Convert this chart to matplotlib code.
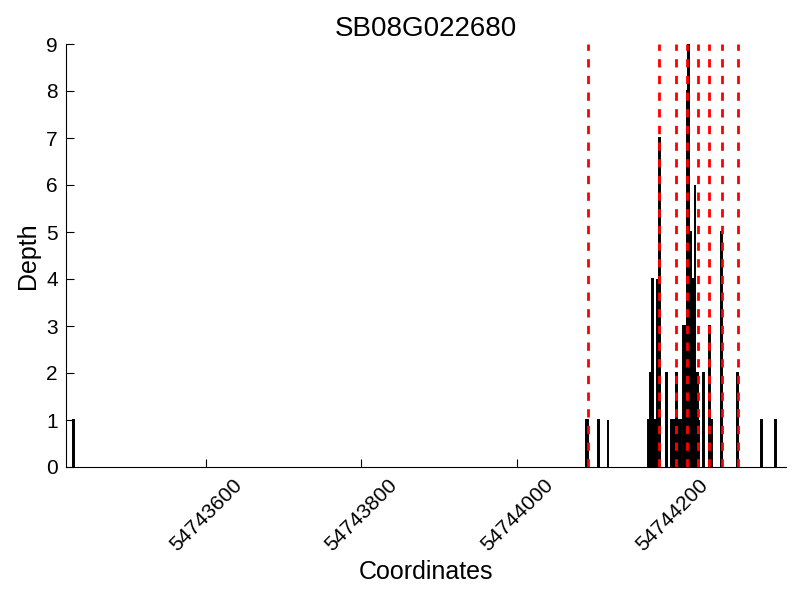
import matplotlib
matplotlib.use('Agg')
import matplotlib.pyplot as plt
from matplotlib.ticker import MultipleLocator

plt.rcParams['font.family'] = ['Liberation Sans', 'DejaVu Sans']
plt.rcParams['lines.scale_dashes'] = False

gene = 'SB08G022680'

# read coordinates / depth
coords = [54743430,
          54744089, 54744091, 54744105, 54744117,
          54744169, 54744170, 54744172, 54744174, 54744176, 54744178,
          54744180, 54744183, 54744192,
          54744199, 54744201, 54744203, 54744205, 54744208, 54744210,
          54744214, 54744215, 54744216, 54744217,
          54744219, 54744221, 54744222, 54744223, 54744225,
          54744226, 54744227, 54744229, 54744231, 54744232, 54744234,
          54744240, 54744248, 54744250, 54744263,
          54744283, 54744284, 54744314, 54744332]
depth = [1,
         1, 1, 1, 1,
         1, 1, 2, 4, 1, 1,
         4, 7, 2,
         1, 1, 1, 2, 1, 1,
         3, 3, 3, 3,
         8, 9, 5, 5, 3,
         4, 4, 6, 2, 2, 1,
         2, 3, 1, 5,
         1, 2, 1, 1]

# exon boundaries
bounds = [54744091, 54744183, 54744205, 54744219, 54744233,
          54744247, 54744264, 54744284]

fig = plt.figure(figsize=(8, 6), dpi=100)
ax = fig.add_axes([66/800, 1-467/600, 720/800, 423/600])

ax.bar(coords, depth, width=1, color='k', edgecolor='k', linewidth=1.4, align='center')
for b in bounds:
    ax.axvline(b, color='red', linestyle=(0, (6, 6)), linewidth=2)

ax.set_xlim(54743420, 54744346)
ax.set_ylim(0, 9)
ax.xaxis.set_major_locator(MultipleLocator(200))
ax.yaxis.set_major_locator(MultipleLocator(1))
ax.ticklabel_format(axis='x', useOffset=False, style='plain')

ax.spines['top'].set_visible(False)
ax.spines['right'].set_visible(False)
ax.tick_params(direction='in', length=6, width=0.8, labelsize=15, pad=6,
               top=False, right=False)
for lab in ax.get_xticklabels():
    lab.set_rotation(45)

ax.set_title(gene, fontsize=20)
ax.set_xlabel('Coordinates', fontsize=18)
ax.set_ylabel('Depth', fontsize=18)

fig.savefig('out.png', dpi=100)
